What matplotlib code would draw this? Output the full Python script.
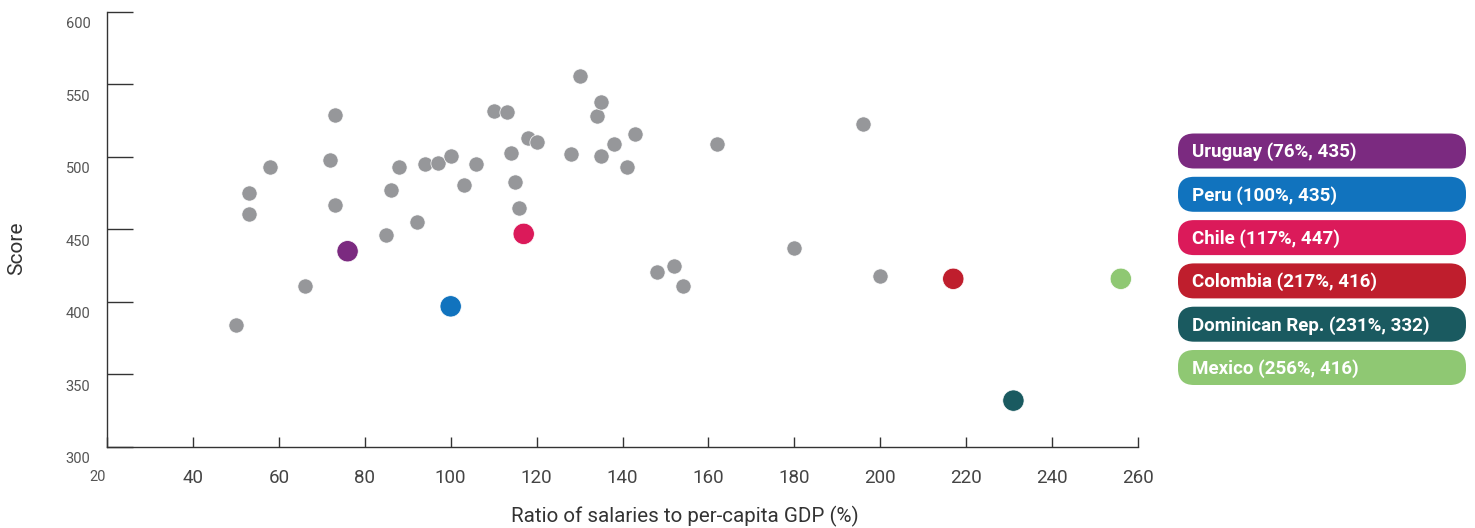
import matplotlib.pyplot as plt
from matplotlib.patches import FancyBboxPatch
from matplotlib.transforms import ScaledTranslation

plt.rcParams['font.family'] = ['Roboto', 'DejaVu Sans']

# other countries (grey dots)
other_x = [50.0, 53.1, 53.1, 58.0, 66.1, 72.0, 73.1, 73.1, 84.9, 86.1,
           88.0, 92.2, 94.0, 97.0, 100.1, 103.0, 106.0, 110.1, 113.0, 114.0,
           115.0, 116.0, 118.0, 120.0, 128.0, 130.0, 134.1, 135.0, 135.0, 138.0,
           141.0, 143.0, 148.0, 152.0, 154.0, 162.0, 180.0, 196.0, 200.0]
other_y = [384, 475, 461, 493, 411, 498, 529, 467, 446, 477,
           493, 455, 495, 496, 501, 481, 495, 532, 531, 503,
           483, 465, 513, 510, 502, 556, 528, 538, 501, 509,
           493, 516, 421, 425, 411, 509, 437, 523, 418]

# highlighted countries
hl_names = ['Uruguay', 'Peru', 'Chile', 'Colombia', 'Dominican Rep.', 'Mexico']
hl_x = [76, 100, 117, 217, 231, 256]
hl_y = [435, 397, 447, 416, 332, 416]
hl_labels = ['Uruguay (76%, 435)', 'Peru (100%, 435)', 'Chile (117%, 447)',
             'Colombia (217%, 416)', 'Dominican Rep. (231%, 332)', 'Mexico (256%, 416)']
hl_colors = ['#7b2a80', '#1173be', '#db1a5a', '#bf1e2d', '#1a5a60', '#8fc873']

x_ticks = [20, 40, 60, 80, 100, 120, 140, 160, 180, 200, 220, 240, 260]
y_ticks = [300, 350, 400, 450, 500, 550, 600]

fig = plt.figure(figsize=(14.75, 5.28), dpi=100)
ax = fig.add_axes([107/1475, 81/528, 1031/1475, 435/528])

ax.scatter(other_x, other_y, s=120, color='#96979a', edgecolors='white', linewidths=0.5, zorder=3, clip_on=False)
ax.scatter(hl_x, hl_y, s=235, c=hl_colors, edgecolors='white', linewidths=0.5, zorder=4, clip_on=False)

ax.set_xlim(20, 260)
ax.set_ylim(300, 600)
for s in ['top', 'right']:
    ax.spines[s].set_visible(False)
for s in ['left', 'bottom']:
    ax.spines[s].set_color('#333333')
    ax.spines[s].set_linewidth(1.0)

ax.set_xticks(x_ticks)
ax.set_xticklabels([str(v) for v in x_ticks])
ax.set_yticks(y_ticks)
ax.set_yticklabels([str(v) for v in y_ticks])
ax.tick_params(axis='x', direction='in', length=7, width=1, color='#333333',
               labelsize=13.5, labelcolor='#444444', pad=16)
ax.tick_params(axis='y', direction='in', length=19, width=1, color='#333333',
               labelsize=10.5, labelcolor='#555555', pad=12)

# alternate y tick colours
for t, v in zip(ax.yaxis.get_major_ticks(), y_ticks):
    if v % 100:
        t.tick1line.set_color('#888888')

# y tick labels sit a bit below their ticks
for lab in ax.get_yticklabels():
    lab.set_transform(lab.get_transform() + ScaledTranslation(0, -0.11, fig.dpi_scale_trans))

# first x label smaller and shifted left
first = ax.get_xticklabels()[0]
first.set_fontsize(10.5)
first.set_color('#555555')
first.set_transform(first.get_transform() + ScaledTranslation(-0.09, -0.01, fig.dpi_scale_trans))

fig.text(17/1475, 1 - 248/528, 'Score', rotation=90, ha='center', va='center',
         fontsize=15, color='#333333')
fig.text(685/1475, 1 - 516/528, 'Ratio of salaries to per-capita GDP (%)', ha='center', va='center',
         fontsize=14.8, color='#333333')

# label badges on the right
over = fig.add_axes([0, 0, 1, 1], zorder=5)
over.set_xlim(0, 1475)
over.set_ylim(528, 0)
over.axis('off')
for i, (lab, col) in enumerate(zip(hl_labels, hl_colors)):
    cy = 151 + i * 43.3
    box = FancyBboxPatch((1178, cy - 17.5), 288, 35,
                         boxstyle='round,pad=0,rounding_size=16',
                         facecolor=col, edgecolor='none')
    over.add_patch(box)
    over.text(1192, cy + 1, lab, ha='left', va='center', color='white',
              fontsize=13.5, fontweight='bold')

fig.savefig('out.png', dpi=100)
